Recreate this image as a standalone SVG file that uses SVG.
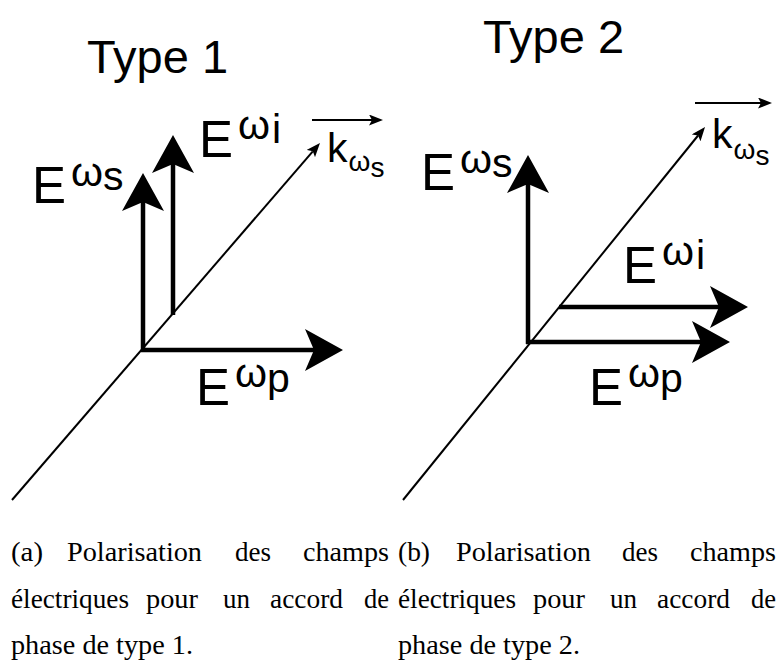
<svg xmlns="http://www.w3.org/2000/svg" width="778" height="661" viewBox="0 0 778 661">
<defs>
<style>
.lab{font-family:"Liberation Sans",Arial,sans-serif;fill:#000}
.E{font-size:51px}
.sup{font-size:41px}
.k{font-size:41px}
.sub{font-size:28px}
.title{font-family:"Liberation Sans",Arial,sans-serif;font-size:47px;fill:#000}
.cap{font-family:"Liberation Serif","Times New Roman",serif;font-size:27px;fill:#000}
.thick{stroke:#000;stroke-width:4.5;fill:none;marker-end:url(#big)}
.thin{stroke:#000;stroke-width:2;fill:none;marker-end:url(#small)}
</style>
<marker id="big" viewBox="0 0 38 42" markerWidth="38" markerHeight="42" refX="9" refY="21" orient="auto" markerUnits="userSpaceOnUse">
<path d="M0,0 L38,21 L0,42 L9,21 Z" fill="#000"/>
</marker>
<marker id="small" viewBox="0 0 14 11" markerWidth="14" markerHeight="11" refX="3" refY="5.5" orient="auto" markerUnits="userSpaceOnUse">
<path d="M0,0 L14,5.5 L0,11 L3,5.5 Z" fill="#000"/>
</marker>
</defs>
<rect width="778" height="661" fill="#fff"/>

<g id="connectors">
<!-- left panel -->
<line class="thin" x1="12" y1="500" x2="312.8" y2="151.3"/>
<line class="thick" x1="143" y1="352" x2="143" y2="202"/>
<line class="thick" x1="173" y1="315" x2="173" y2="164"/>
<line class="thick" x1="141" y1="350" x2="314" y2="350"/>
<line class="thin" x1="312" y1="120" x2="372" y2="120"/>
<!-- right panel -->
<line class="thin" x1="403" y1="500" x2="698.1" y2="135.5"/>
<line class="thick" x1="528" y1="344" x2="528" y2="184"/>
<line class="thick" x1="559" y1="307" x2="719" y2="307"/>
<line class="thick" x1="526" y1="342" x2="701" y2="342"/>
<line class="thin" x1="695" y1="103" x2="761" y2="103"/>
</g>

<g id="title1"><text class="title" x="87" y="73">Type 1</text></g>
<g id="title2"><text class="title" x="483" y="53">Type 2</text></g>

<g id="l-Es" class="lab">
<text class="E" x="32" y="203">E<tspan class="sup" dx="5" dy="-17">ω</tspan><tspan class="sup" dy="4">s</tspan></text>
</g>
<g id="l-Ei" class="lab">
<text class="E" x="199" y="157">E<tspan class="sup" dx="5" dy="-18">ω</tspan><tspan class="sup" dx="2" dy="4">i</tspan></text>
</g>
<g id="l-Ep" class="lab">
<text class="E" x="196" y="405">E<tspan class="sup" dx="5" dy="-18">ω</tspan><tspan class="sup" dy="5">p</tspan></text>
</g>
<g id="l-k" class="lab">
<text class="k" x="327" y="162">k<tspan class="sub" dx="1" dy="9">ω</tspan><tspan class="sub" dy="6">s</tspan></text>
</g>

<g id="r-Es" class="lab">
<text class="E" x="421" y="190">E<tspan class="sup" dx="5" dy="-17">ω</tspan><tspan class="sup" dy="4">s</tspan></text>
</g>
<g id="r-Ei" class="lab">
<text class="E" x="623" y="283">E<tspan class="sup" dx="5" dy="-18">ω</tspan><tspan class="sup" dx="2" dy="4">i</tspan></text>
</g>
<g id="r-Ep" class="lab">
<text class="E" x="589" y="405">E<tspan class="sup" dx="5" dy="-18">ω</tspan><tspan class="sup" dy="5">p</tspan></text>
</g>
<g id="r-k" class="lab">
<text class="k" x="712" y="148">k<tspan class="sub" dx="1" dy="11">ω</tspan><tspan class="sub" dy="6">s</tspan></text>
</g>

<g id="caption-a" class="cap">
<text x="11" y="561" textLength="32" lengthAdjust="spacingAndGlyphs">(a)</text>
<text x="67" y="561" textLength="135" lengthAdjust="spacingAndGlyphs">Polarisation</text>
<text x="235" y="561" textLength="36" lengthAdjust="spacingAndGlyphs">des</text>
<text x="303" y="561" textLength="86" lengthAdjust="spacingAndGlyphs">champs</text>
<text x="11" y="608" textLength="118" lengthAdjust="spacingAndGlyphs">électriques</text>
<text x="146" y="608" textLength="52" lengthAdjust="spacingAndGlyphs">pour</text>
<text x="223" y="608" textLength="27" lengthAdjust="spacingAndGlyphs">un</text>
<text x="270" y="608" textLength="73" lengthAdjust="spacingAndGlyphs">accord</text>
<text x="364" y="608" textLength="25" lengthAdjust="spacingAndGlyphs">de</text>
<text x="11" y="654" textLength="182" lengthAdjust="spacingAndGlyphs">phase de type 1.</text>
</g>
<g id="caption-b" class="cap">
<text x="398" y="561" textLength="32" lengthAdjust="spacingAndGlyphs">(b)</text>
<text x="456" y="561" textLength="135" lengthAdjust="spacingAndGlyphs">Polarisation</text>
<text x="622" y="561" textLength="36" lengthAdjust="spacingAndGlyphs">des</text>
<text x="690" y="561" textLength="86" lengthAdjust="spacingAndGlyphs">champs</text>
<text x="398" y="608" textLength="118" lengthAdjust="spacingAndGlyphs">électriques</text>
<text x="533" y="608" textLength="52" lengthAdjust="spacingAndGlyphs">pour</text>
<text x="610" y="608" textLength="27" lengthAdjust="spacingAndGlyphs">un</text>
<text x="657" y="608" textLength="73" lengthAdjust="spacingAndGlyphs">accord</text>
<text x="751" y="608" textLength="25" lengthAdjust="spacingAndGlyphs">de</text>
<text x="398" y="654" textLength="182" lengthAdjust="spacingAndGlyphs">phase de type 2.</text>
</g>
</svg>
